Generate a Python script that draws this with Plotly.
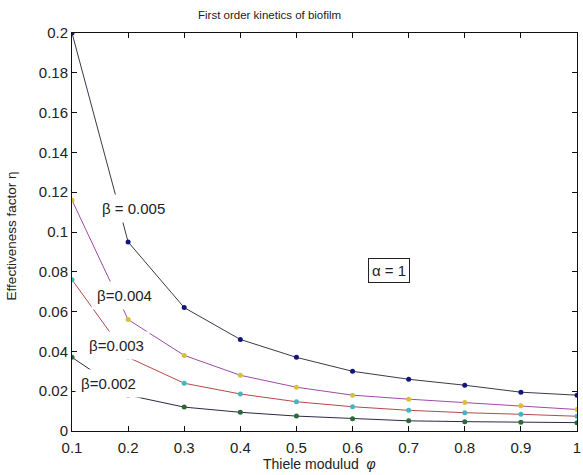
import plotly.graph_objects as go

# Thiele modulus values
phi = [0.1, 0.2, 0.3, 0.4, 0.5, 0.6, 0.7, 0.8, 0.9, 1.0]

# Effectiveness factor for each beta
eta_b005 = [0.200, 0.095, 0.062, 0.046, 0.037, 0.030, 0.026, 0.023, 0.0195, 0.018]
eta_b004 = [0.116, 0.056, 0.038, 0.028, 0.022, 0.018, 0.016, 0.0143, 0.0127, 0.0108]
eta_b003 = [0.076, 0.037, 0.024, 0.0186, 0.0147, 0.0122, 0.0104, 0.0092, 0.0084, 0.0074]
eta_b002 = [0.037, 0.018, 0.012, 0.0094, 0.0075, 0.0062, 0.0051, 0.0047, 0.0044, 0.0042]

series = [
    ("β = 0.005", eta_b005, "#3a3a4a", "#14147a"),
    ("β = 0.004", eta_b004, "#a04aa8", "#d8c232"),
    ("β = 0.003", eta_b003, "#b84848", "#40b8c0"),
    ("β = 0.002", eta_b002, "#2a2a48", "#2a6a3a"),
]

x_ticks = [0.1, 0.2, 0.3, 0.4, 0.5, 0.6, 0.7, 0.8, 0.9, 1.0]
x_ticktext = ["0.1", "0.2", "0.3", "0.4", "0.5", "0.6", "0.7", "0.8", "0.9", "1"]
y_ticks = [0, 0.02, 0.04, 0.06, 0.08, 0.1, 0.12, 0.14, 0.16, 0.18, 0.2]
y_ticktext = ["0", "0.02", "0.04", "0.06", "0.08", "0.1", "0.12", "0.14", "0.16", "0.18", "0.2"]

fig = go.Figure()
for name, eta, lc, mc in series:
    fig.add_trace(go.Scatter(
        x=phi, y=eta, mode="lines+markers", name=name,
        line=dict(color=lc, width=1),
        marker=dict(color=mc, size=5, symbol="circle"),
        showlegend=False,
    ))

font = "Liberation Sans, Arial, sans-serif"

# Curve labels (white boxes break the lines as in the original)
curve_labels = [
    ("β = 0.005", 0.2095, 0.1116),
    ("β=0.004", 0.1936, 0.0683),
    ("β=0.003", 0.180, 0.0432),
    ("β=0.002", 0.1645, 0.0240),
]
for text, lx, ly in curve_labels:
    fig.add_annotation(x=lx, y=ly, xref="x", yref="y", text=text, showarrow=False,
                       font=dict(family=font, size=15, color="#222"),
                       bgcolor="white", borderpad=5)

fig.add_annotation(x=0.665, y=0.0807, xref="x", yref="y", text="α = 1", showarrow=False,
                   font=dict(family=font, size=15, color="#222"),
                   bgcolor="white", bordercolor="#222", borderwidth=1, borderpad=3)

# Title and axis labels
fig.add_annotation(x=0.391, y=1.045, xref="paper", yref="paper",
                   xanchor="center", yanchor="middle",
                   text="First order kinetics of biofilm", showarrow=False,
                   font=dict(family=font, size=11.5, color="#222"))
fig.add_annotation(x=0.491, y=-0.083, xref="paper", yref="paper",
                   xanchor="center", yanchor="middle",
                   text="Thiele modulud  <i>φ</i>", showarrow=False,
                   font=dict(family=font, size=14, color="#222"))
fig.add_annotation(x=-0.118, y=0.49, xref="paper", yref="paper",
                   xanchor="center", yanchor="middle",
                   text="Effectiveness factor η", showarrow=False, textangle=-90,
                   font=dict(family=font, size=13.5, color="#222"))

axis_common = dict(
    showgrid=False, zeroline=False, showline=True, linecolor="#111", linewidth=1,
    mirror="ticks", ticks="inside", ticklen=5, tickcolor="#111",
    tickfont=dict(family=font, size=15, color="#222"),
    ticklabeloverflow="allow",
)
fig.update_xaxes(range=[0.1, 1.0], tickvals=x_ticks, ticktext=x_ticktext,
                 ticklabelstandoff=3, **axis_common)
fig.update_yaxes(range=[0, 0.2], tickvals=y_ticks, ticktext=y_ticktext, **axis_common)

fig.update_layout(
    width=583, height=475,
    margin=dict(l=72, r=2, t=33, b=44),
    plot_bgcolor="white", paper_bgcolor="white",
)

fig.write_html("out.html")
